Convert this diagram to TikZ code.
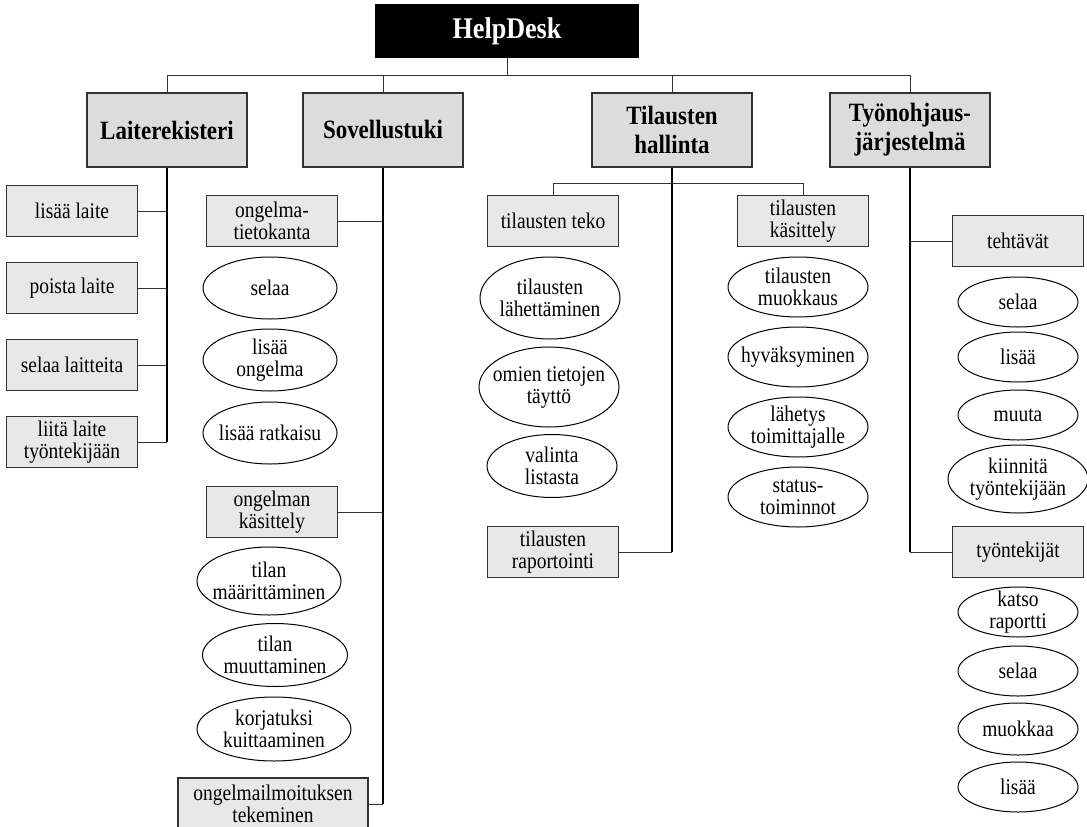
\documentclass[tikz,border=0pt]{standalone}
\usepackage{fontspec}
\setmainfont{Liberation Serif}[FakeStretch=0.87]
\usetikzlibrary{positioning,shapes.geometric}
\definecolor{topgray}{RGB}{220,220,220}
\definecolor{subgray}{RGB}{232,232,232}
\definecolor{edge}{RGB}{50,50,50}
\tikzset{
  every picture/.style={line width=1pt},
  head/.style={draw=black,fill=black,text=white,minimum width=263pt,minimum height=53pt,font=\fontsize{30}{32}\selectfont\bfseries},
  grp/.style={draw=edge,fill=topgray,line width=1.2pt,minimum width=160pt,minimum height=74pt,align=center,font=\fontsize{26.4}{29}\selectfont\bfseries},
  sub/.style={draw=edge,fill=subgray,line width=1.2pt,minimum width=131pt,minimum height=51pt,inner sep=1pt,align=center,font=\fontsize{22.4}{22}\selectfont},
  act/.style 2 args={draw,ellipse,inner xsep=-30pt,inner ysep=-20pt,minimum width=#1pt,minimum height=#2pt,align=center,font=\fontsize{22.4}{22}\selectfont},
  link/.style={draw=edge,line width=1pt},
  trunk/.style={draw=black,line width=1.6pt},
}

\begin{document}
\begin{tikzpicture}[x=1pt,y=-1pt]
\useasboundingbox (0,0) rectangle (1087,827);
\clip (0,0) rectangle (1087,827);
% root and main groups
\node[head] (help) at (507,31) {HelpDesk};
\node[grp] (lait) at (167,130) {Laiterekisteri};
\node[grp] (sov) at (383,130) {Sovellustuki};
\node[grp] (til) at (672,130) {Tilausten\\hallinta};
\node[grp] (tyo) at (910,130) {Työnohjaus-\\järjestelmä};
\coordinate (bar) at (0,75);
\foreach \g in {lait,sov,til,tyo}
  \draw[link] (help.south) -- (help.south |- bar) -| (\g.north);
% laiterekisteri
\node[sub] (lisaa) at (72,211) {lisää laite};
\node[sub] (poista) at (72,288) {poista laite};
\node[sub] (selaa) at (72,365) {selaa laitteita};
\node[sub] (liita) at (72,442) {liitä laite\\työntekijään};
\draw[trunk] (lait.south) -- (lait.south |- liita.east);
\foreach \n in {lisaa,poista,selaa,liita}
  \draw[link] (\n.east) -- (\n.east -| lait.south);
% sovellustuki
\node[sub] (kanta) at (272,221) {ongelma-\\tietokanta};
\node[act={134}{62}] (ks1) at (270,288) {selaa};
\node[act={134}{62}] (ks2) at (270,360) {lisää\\ongelma};
\node[act={134}{62}] (ks3) at (270,433) {lisää ratkaisu};
\node[sub] (kasit) at (272,512) {ongelman\\käsittely};
\node[act={144}{68}] (kk1) at (269,581) {tilan\\määrittäminen};
\node[act={145}{63}] (kk2) at (275,655) {tilan\\muuttaminen};
\node[act={154}{64}] (kk3) at (274,729) {korjatuksi\\kuittaaminen};
\node[sub,minimum width=190pt,minimum height=52pt] (ilmo) at (273,804) {ongelmailmoituksen\\tekeminen};
\draw[trunk] (sov.south) -- (sov.south |- ilmo.east);
\foreach \n in {kanta,kasit,ilmo}
  \draw[link] (\n.east) -- (\n.east -| sov.south);
% tilausten hallinta
\coordinate (tbar) at (0,183);
\node[sub] (teko) at (553,221) {tilausten teko};
\node[act={140}{82}] (tt1) at (550,298) {tilausten\\lähettäminen};
\node[act={140}{80}] (tt2) at (549,387) {omien tietojen\\täyttö};
\node[act={130}{63}] (tt3) at (552,466) {valinta\\listasta};
\node[sub] (kas) at (803,221) {tilausten\\käsittely};
\node[act={140}{60}] (tk1) at (798,287) {tilausten\\muokkaus};
\node[act={140}{60}] (tk2) at (798,357) {hyväksyminen};
\node[act={140}{60}] (tk3) at (798,427) {lähetys\\toimittajalle};
\node[act={140}{60}] (tk4) at (798,497) {status-\\toiminnot};
\node[sub] (rap) at (553,552) {tilausten\\raportointi};
\draw[trunk] (til.south) -- (til.south |- rap.east);
\draw[link] (rap.east) -- (rap.east -| til.south);
\draw[link] (teko.north) -- (teko.north |- tbar) -- (kas.north |- tbar) -- (kas.north);
% tyonohjaus
\node[sub] (teht) at (1018,241) {tehtävät};
\node[act={120}{50}] (th1) at (1018,302) {selaa};
\node[act={120}{50}] (th2) at (1018,357) {lisää};
\node[act={120}{50}] (th3) at (1018,415) {muuta};
\node[act={140}{68}] (th4) at (1018,479) {kiinnitä\\työntekijään};
\node[sub] (tekij) at (1018,552) {työntekijät};
\node[act={120}{50}] (tj1) at (1018,612) {katso\\raportti};
\node[act={120}{50}] (tj2) at (1018,671) {selaa};
\node[act={120}{52}] (tj3) at (1018,729) {muokkaa};
\node[act={120}{50}] (tj4) at (1018,787) {lisää};
\draw[trunk] (tyo.south) -- (tyo.south |- tekij.west);
\foreach \n in {teht,tekij}
  \draw[link] (\n.west) -- (\n.west -| tyo.south);
\end{tikzpicture}
\end{document}
